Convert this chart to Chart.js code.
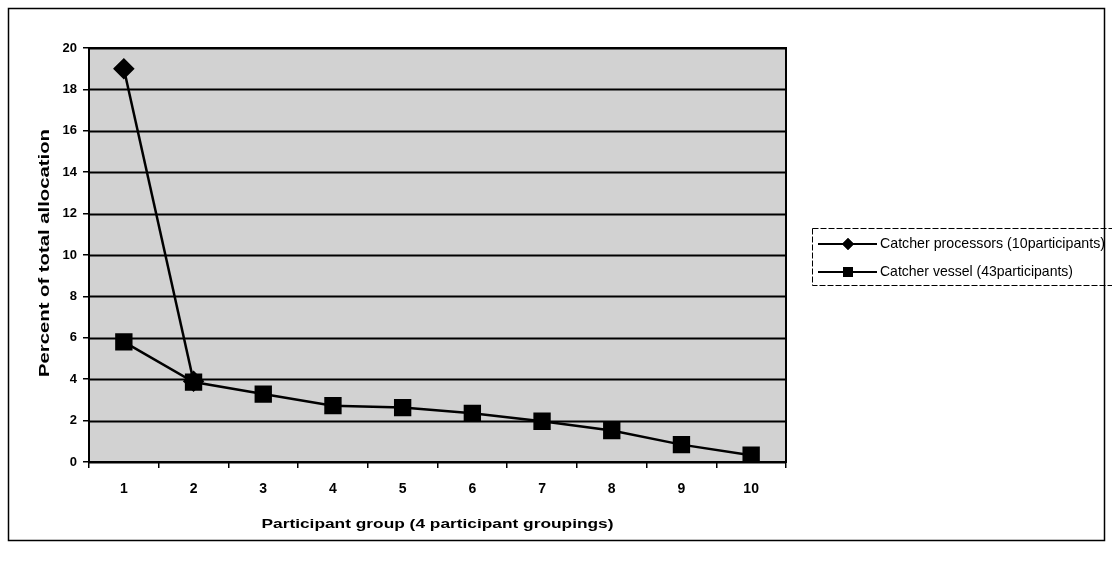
<!DOCTYPE html>
<html lang="en">
<head>
    <meta charset="UTF-8">
    <title>Percent of total allocation</title>
    <style>
        html, body {
            margin: 0;
            padding: 0;
            background: #ffffff;
        }
        #wrap {
            width: 1112px;
            height: 569px;
            position: relative;
        }
    </style>
    <script src="https://cdn.jsdelivr.net/npm/chart.js@4/dist/chart.umd.min.js"></script>
</head>
<body>
    <div id="wrap">
        <canvas id="allocChart" width="1112" height="569"></canvas>
    </div>

    <script>
        const groups = ['1', '2', '3', '4', '5', '6', '7', '8', '9', '10'];
        const processors = [19, 3.9, null, null, null, null, null, null, null, null];
        const vessels = [5.8, 3.86, 3.28, 2.72, 2.63, 2.35, 1.97, 1.52, 0.84, 0.33];
        const yTicks = [0, 2, 4, 6, 8, 10, 12, 14, 16, 18, 20];

        const xTitle = 'Participant group (4 participant groupings)';
        const yTitle = 'Percent of total allocation';

        const labelFont = "'Liberation Sans', Arial, sans-serif";

        // squeeze or stretch a text line to a given width
        function fitText(ctx, text, x, y, width) {
            const w = ctx.measureText(text).width;
            ctx.save();
            ctx.translate(x, y);
            ctx.scale(width / w, 1);
            ctx.fillText(text, 0, 0);
            ctx.restore();
        }

        // grey plot fill, titles, outer frame and boxed legend
        const frame = {
            id: 'frame',
            beforeDatasetsDraw(chart) {
                const { ctx, chartArea: a } = chart;
                ctx.save();
                ctx.fillStyle = '#d2d2d2';
                ctx.fillRect(a.left, a.top, a.right - a.left, a.bottom - a.top);
                const y = chart.scales.y;
                ctx.strokeStyle = '#000';
                ctx.lineWidth = 1.8;
                yTicks.forEach(t => {
                    const py = Math.round(y.getPixelForValue(t)) + 0.5;
                    ctx.beginPath();
                    ctx.moveTo(a.left, py);
                    ctx.lineTo(a.right, py);
                    ctx.stroke();
                });
                ctx.restore();
            },
            afterDraw(chart) {
                const { ctx, chartArea: a } = chart;
                ctx.save();
                ctx.strokeStyle = '#000';
                ctx.lineWidth = 2;
                ctx.strokeRect(a.left, a.top, a.right - a.left, a.bottom - a.top);

                // axis titles
                ctx.fillStyle = '#000';
                ctx.textAlign = 'left';
                ctx.textBaseline = 'middle';
                ctx.font = 'bold 13px ' + labelFont;
                fitText(ctx, xTitle, (a.left + a.right) / 2 - 176, 524, 352);

                ctx.save();
                ctx.translate(45, 253);
                ctx.rotate(-Math.PI / 2);
                ctx.font = 'bold 14px ' + labelFont;
                fitText(ctx, yTitle, -124, 0, 248);
                ctx.restore();

                // outer frame
                ctx.lineWidth = 1.5;
                ctx.strokeRect(8.5, 8.5, 1096, 532);

                // legend
                const lx = 812, ly = 228, lw = 310, lh = 57;
                ctx.setLineDash([6, 2]);
                ctx.lineWidth = 1;
                ctx.strokeRect(lx + 0.5, ly + 0.5, lw, lh);
                ctx.setLineDash([]);
                const rows = [
                    { ds: chart.data.datasets[0], style: 'rectRot', r: 6, w: 225 },
                    { ds: chart.data.datasets[1], style: 'rect', r: 7, w: 193 }
                ];
                rows.forEach((row, i) => {
                    const cy = ly + 16 + i * 28;
                    ctx.strokeStyle = '#000';
                    ctx.lineWidth = 2;
                    ctx.beginPath();
                    ctx.moveTo(lx + 6, cy);
                    ctx.lineTo(lx + 65, cy);
                    ctx.stroke();
                    ctx.fillStyle = '#000';
                    Chart.helpers.drawPoint(ctx, { pointStyle: row.style, radius: row.r, borderWidth: 0 }, lx + 36, cy);
                    ctx.fill();
                    ctx.font = '15px ' + labelFont;
                    ctx.textBaseline = 'middle';
                    ctx.textAlign = 'left';
                    fitText(ctx, row.ds.label, lx + 68, cy, row.w);
                });
                ctx.restore();
            }
        };

        const ctx = document.getElementById('allocChart').getContext('2d');

        window.allocChart = new Chart(ctx, {
            type: 'line',
            data: {
                labels: groups,
                datasets: [
                    {
                        label: 'Catcher processors (10participants)',
                        data: processors,
                        borderColor: '#000',
                        backgroundColor: '#000',
                        borderWidth: 2.5,
                        pointStyle: 'rectRot',
                        pointRadius: 9,
                        pointHoverRadius: 9,
                        spanGaps: false,
                        fill: false,
                        tension: 0
                    },
                    {
                        label: 'Catcher vessel (43participants)',
                        data: vessels,
                        borderColor: '#000',
                        backgroundColor: '#000',
                        borderWidth: 2.5,
                        pointStyle: 'rect',
                        pointRadius: 10.5,
                        pointHoverRadius: 10.5,
                        fill: false,
                        tension: 0
                    }
                ]
            },
            plugins: [frame],
            options: {
                responsive: false,
                animation: false,
                layout: {
                    padding: { top: 48, right: 326, left: 0, bottom: 0 }
                },
                plugins: {
                    legend: { display: false },
                    tooltip: { enabled: false }
                },
                scales: {
                    x: {
                        type: 'category',
                        offset: true,
                        afterFit(scale) { scale.height = 107; },
                        grid: {
                            offset: true,
                            drawOnChartArea: false,
                            color: '#000',
                            lineWidth: 1.5,
                            tickLength: 6
                        },
                        border: { color: '#000', width: 2 },
                        ticks: {
                            color: '#000',
                            padding: 13,
                            font: { family: labelFont, size: 14, weight: 'bold' }
                        }
                    },
                    y: {
                        min: 0,
                        max: 20,
                        afterFit(scale) { scale.width = 89; },
                        afterBuildTicks(scale) {
                            scale.ticks = yTicks.map(v => ({ value: v }));
                        },
                        grid: {
                            drawOnChartArea: false,
                            color: '#000',
                            lineWidth: 1.5,
                            tickLength: 6
                        },
                        border: { color: '#000', width: 2 },
                        ticks: {
                            color: '#000',
                            padding: 6,
                            font: { family: labelFont, size: 13, weight: 'bold' }
                        }
                    }
                }
            }
        });
    </script>
</body>
</html>
